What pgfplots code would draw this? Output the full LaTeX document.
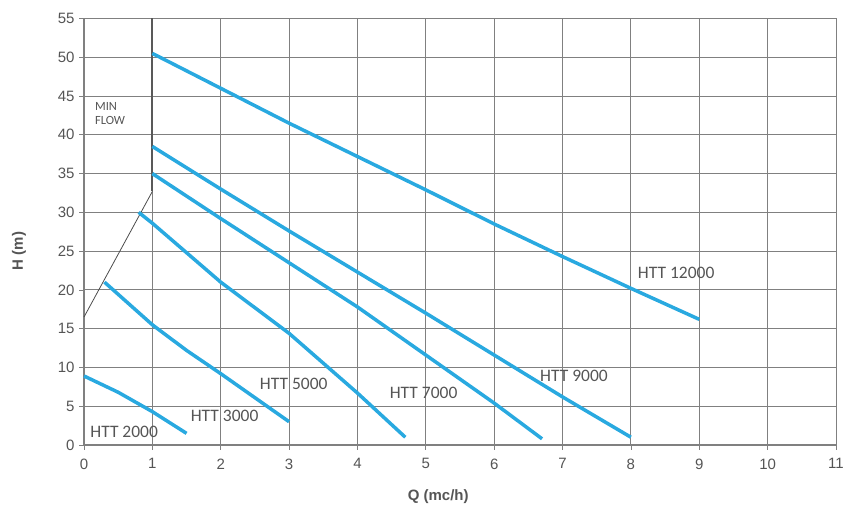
\documentclass[border=0pt]{standalone}
\usepackage{fontspec}
\setmainfont{Liberation Sans}
\newfontfamily\calfont{Carlito}
\usepackage{pgfplots}
\pgfplotsset{compat=1.18}
\definecolor{curve}{RGB}{41,169,224}
\definecolor{gridc}{RGB}{128,128,128}
\definecolor{txt}{RGB}{85,85,85}
\begin{document}
\begin{tikzpicture}
\useasboundingbox (-84pt,-79pt) rectangle (773pt,445pt);
\begin{axis}[
  at={(0,0)}, anchor=south west,
  scale only axis, width=752pt, height=426.5pt,
  xmin=0, xmax=11, ymin=0, ymax=55,
  xtick={0,...,11}, ytick={0,5,...,55},
  grid=major,
  grid style={gridc, line width=0.9pt},
  axis line style={gridc, line width=1pt},
  tick style={gridc, line width=0.8pt},
  tick align=outside, major tick length=5pt,
  xtick pos=bottom, ytick pos=left,
  /pgf/number format/assume math mode=true,
  tick label style={font=\fontsize{15}{17}\selectfont, text=txt},
  xticklabel style={yshift=-5pt},
  yticklabel style={xshift=-1pt},
  xlabel={\textbf{Q (mc/h)}},
  ylabel={\textbf{H (m)}},
  label style={font=\fontsize{15}{17}\selectfont, text=txt},
  xlabel style={at={(axis description cs:0.471,-0.122)}, anchor=center},
  ylabel style={at={(axis description cs:-0.0864,0.455)}, anchor=center},
  clip=false,
]
% min flow lines
\addplot[color=black!65, line width=2pt] coordinates {(1,32.7) (1,55)};
\addplot[color=black!70, line width=0.8pt] coordinates {(0,16.5) (1,32.7)};
% curves
\addplot[curve, line width=3.5pt] coordinates {(1,50.5) (2,46) (3,41.5) (4,37.2) (5,32.9) (6,28.5) (7,24.3) (8,20.2) (9,16.2)};
\addplot[curve, line width=3.5pt] coordinates {(1,38.5) (2,33) (3,27.6) (4,22.3) (5,17) (6,11.6) (7,6.2) (8,1)};
\addplot[curve, line width=3.5pt] coordinates {(1,35) (2,29.2) (3,23.5) (4,17.8) (5,11.6) (6,5.4) (6.7,0.8)};
\addplot[curve, line width=3.5pt] coordinates {(0.8,30) (1,28.6) (2,21) (3,14.4) (4,6.7) (4.7,1)};
\addplot[curve, line width=3.5pt] coordinates {(0.3,21) (1,15.5) (1.5,12.2) (2,9.2) (2.5,6.1) (3,3)};
\addplot[curve, line width=3.5pt] coordinates {(0,8.9) (0.5,6.8) (1,4.3) (1.5,1.5)};
% labels
\node[anchor=west, inner sep=0pt, text=txt, font=\calfont\fontsize{17.5}{19}\selectfont] at (axis cs:0.09,1.7) {HTT 2000};
\node[anchor=west, inner sep=0pt, text=txt, font=\calfont\fontsize{17.5}{19}\selectfont] at (axis cs:1.56,3.7) {HTT 3000};
\node[anchor=west, inner sep=0pt, text=txt, font=\calfont\fontsize{17.5}{19}\selectfont] at (axis cs:2.57,7.9) {HTT 5000};
\node[anchor=west, inner sep=0pt, text=txt, font=\calfont\fontsize{17.5}{19}\selectfont] at (axis cs:4.47,6.7) {HTT 7000};
\node[anchor=west, inner sep=0pt, text=txt, font=\calfont\fontsize{17.5}{19}\selectfont] at (axis cs:6.67,8.9) {HTT 9000};
\node[anchor=west, inner sep=0pt, text=txt, font=\calfont\fontsize{17.5}{19}\selectfont] at (axis cs:8.1,22.2) {HTT 12000};
\node[anchor=west, inner sep=0pt, text=txt, font=\calfont\fontsize{12.5}{14}\selectfont] at (axis cs:0.16,43.6) {MIN};
\node[anchor=west, inner sep=0pt, text=txt, font=\calfont\fontsize{12.5}{14}\selectfont] at (axis cs:0.16,41.8) {FLOW};
\end{axis}
\end{tikzpicture}
\end{document}
